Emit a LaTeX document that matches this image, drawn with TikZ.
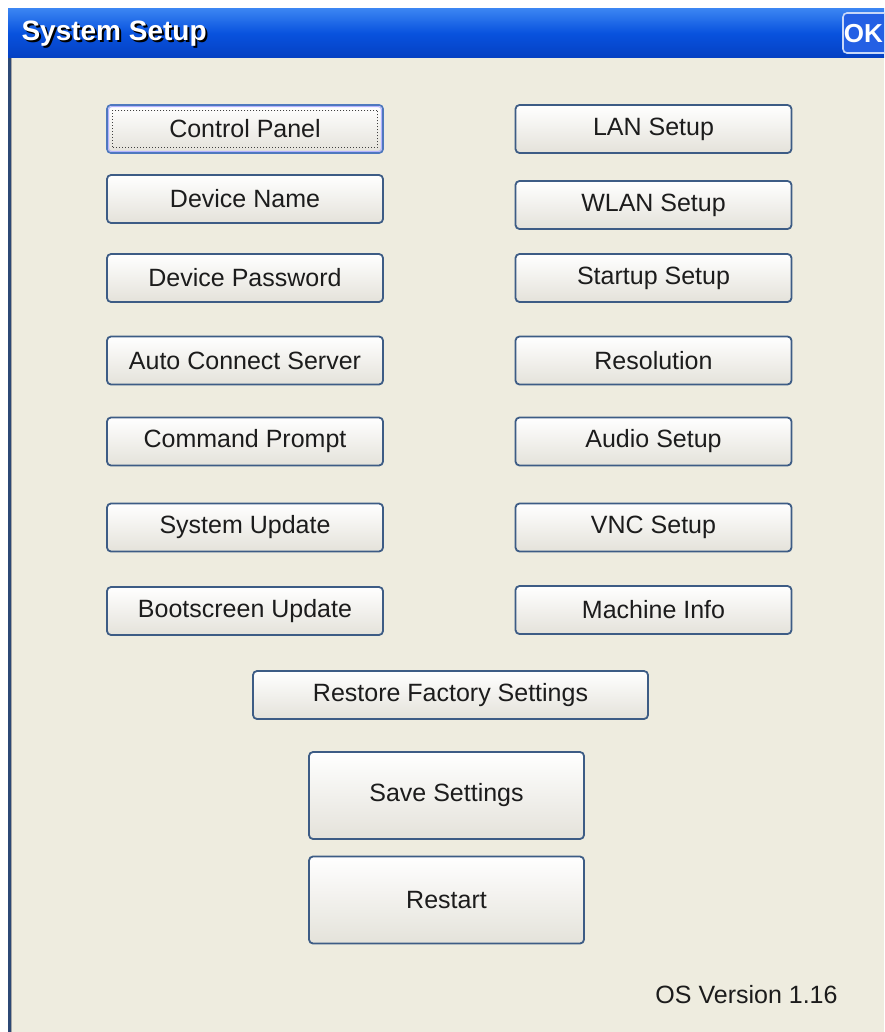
\documentclass[tikz,border=0pt]{standalone}
\usepackage{fontspec}
\newfontfamily\uifont{Liberation Sans}
\usetikzlibrary{calc}
\definecolor{dlgbg}{HTML}{EEECDF}
\definecolor{btnedge}{HTML}{3D5C85}
\definecolor{btnlow}{HTML}{E4E2DA}
\definecolor{btntext}{HTML}{1C1C1C}
\definecolor{barmid}{HTML}{0852DE}
\definecolor{bartop}{HTML}{3A84F2}
\definecolor{barlow}{HTML}{0540C2}
\definecolor{frameedge}{HTML}{2C4875}
\definecolor{focusedge}{HTML}{4E78BE}
\definecolor{okfill}{HTML}{2460E4}
\definecolor{okedge}{HTML}{C8D8F8}
\tikzset{
  btn/.style={draw=btnedge, line width=1.8pt, rounded corners=4pt,
    top color=white, bottom color=btnlow, text=btntext,
    font=\uifont\fontsize{25}{30}\selectfont, inner sep=0pt},
  colbtn/.style={btn, minimum width=276pt, minimum height=48pt},
  bigbtn/.style={btn, minimum width=275pt, minimum height=87pt},
}
\begin{document}
\begin{tikzpicture}[x=1pt, y=-1pt]
\useasboundingbox (0,0) rectangle (884,1032);
\clip (0,0) rectangle (884,1032);
% page and dialog body
\fill[white] (0,0) rectangle (884,1032);
\fill[dlgbg] (8,58) rectangle (884,1032);
\fill[frameedge] (8,58) rectangle (11,1032);
\draw[gray!70, line width=0.8pt] (11.5,58) -- (11.5,1032);
% title bar
\shade[top color=bartop, bottom color=barlow, middle color=barmid] (8,9) rectangle (884,58);
\node[anchor=west, text=black, font=\uifont\bfseries\fontsize{28}{32}\selectfont] (titleshadow) at (20,36) {System Setup};
\node[anchor=west, text=white, font=\uifont\bfseries\fontsize{28}{32}\selectfont] (title) at (18,34) {System Setup};
% OK button in the title bar
\fill[okfill, rounded corners=4pt] (843,13) rectangle (900,53);
\draw[okedge, line width=1.6pt, rounded corners=4pt] (843,13) rectangle (900,53);
\node[anchor=east, inner sep=0pt, text=white, font=\uifont\bfseries\fontsize{26}{30}\selectfont] (ok) at (883,34) {OK};
% left column
\node[colbtn, draw=focusedge] (cp)  at (245,129)   {Control Panel};
\draw[white!70!blue, line width=1pt, rounded corners=3pt] ([xshift=2.5pt,yshift=-2.5pt]cp.north west) rectangle ([xshift=-2.5pt,yshift=2.5pt]cp.south east);
\draw[black!75, line width=1pt, dotted] ([xshift=6pt,yshift=-6pt]cp.north west) rectangle ([xshift=-6pt,yshift=6pt]cp.south east);
\node[colbtn] (dn)  at (245,199)   {Device Name};
\node[colbtn] (dp)  at (245,278)   {Device Password};
\node[colbtn] (acs) at (245,360.5) {Auto Connect Server};
\node[colbtn] (cmd) at (245,441.5) {Command Prompt};
\node[colbtn] (su)  at (245,527.5) {System Update};
\node[colbtn] (bu)  at (245,611)   {Bootscreen Update};
% right column
\node[colbtn] (lan)  at (653.5,129)   {LAN Setup};
\node[colbtn] (wlan) at (653.5,205)   {WLAN Setup};
\node[colbtn] (ss)   at (653.5,278)   {Startup Setup};
\node[colbtn] (res)  at (653.5,360.5) {Resolution};
\node[colbtn] (aud)  at (653.5,441.5) {Audio Setup};
\node[colbtn] (vnc)  at (653.5,527.5) {VNC Setup};
\node[colbtn] (mi)   at (653.5,610)   {Machine Info};
% wide and large buttons
\node[btn, minimum width=395pt, minimum height=48pt] (rfs) at (450.5,695) {Restore Factory Settings};
\node[bigbtn] (save)    at (446.5,795.5) {Save Settings};
\node[bigbtn] (restart) at (446.5,900)   {Restart};
% version label
\node[text=btntext, font=\uifont\fontsize{25}{30}\selectfont, inner sep=0pt] (ver) at (746.5,995) {OS Version 1.16};
\end{tikzpicture}
\end{document}
